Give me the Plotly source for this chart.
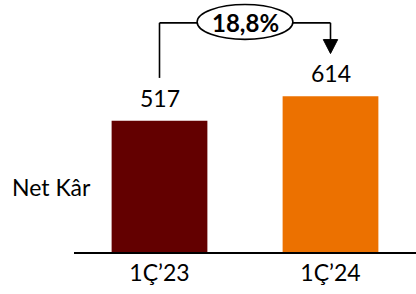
import plotly.graph_objects as go

categories = ["1Ç’23", "1Ç’24"]
values = [517, 614]
colors = ["#630000", "#EC7100"]
row_label = "Net Kâr"

growth = (values[1] / values[0] - 1) * 100
growth_txt = f"{growth:.1f}".replace(".", ",") + "%"

FONT = "Lato, 'Open Sans', sans-serif"

fig = go.Figure()
fig.add_trace(go.Bar(x=[0, 1], y=values, marker=dict(color=colors, line=dict(width=0)),
                     width=0.56, hoverinfo="skip"))

for i, v in enumerate(values):
    fig.add_annotation(x=i, y=v, text=str(v), showarrow=False, yanchor="bottom",
                       yshift=7, font=dict(size=23, color="black", family=FONT))

# growth connector
top = 903
lw = 1.6
fig.add_shape(type="line", x0=0, x1=0, y0=values[0] + 169, y1=top, line=dict(color="black", width=lw))
fig.add_shape(type="line", x0=0, x1=0.22, y0=top, y1=top, line=dict(color="black", width=lw))
fig.add_shape(type="line", x0=0.78, x1=1.0, y0=top, y1=top, line=dict(color="black", width=lw))
fig.add_shape(type="line", x0=1.0, x1=1.0, y0=top, y1=values[1] + 215, line=dict(color="black", width=lw))
tip = values[1] + 168
fig.add_shape(type="path", path=f"M 0.958 {tip+55} L 1.042 {tip+55} L 1.0 {tip} Z",
              fillcolor="black", line=dict(color="black", width=1))
fig.add_shape(type="circle", x0=0.22, x1=0.78, y0=838, y1=975, fillcolor="white",
              line=dict(color="black", width=lw))
fig.add_annotation(x=0.5, y=906, text=f"<b>{growth_txt}</b>", showarrow=False,
                   font=dict(size=24, color="black", family=FONT))

fig.add_annotation(xref="paper", yref="paper", x=-0.187, y=0.258, xanchor="left", yanchor="middle",
                   text=row_label, showarrow=False, font=dict(size=23, color="black", family=FONT))

fig.update_layout(
    width=416, height=294,
    margin=dict(l=74, r=0, t=0, b=42),
    plot_bgcolor="white", paper_bgcolor="white",
    showlegend=False,
    xaxis=dict(range=[-0.5, 1.5], tickmode="array", tickvals=[0, 1], ticktext=categories,
               showline=True, linecolor="black", linewidth=1.6, showgrid=False, zeroline=False,
               ticks="", tickfont=dict(size=23, color="black", family=FONT), fixedrange=True,
               automargin=False),
    yaxis=dict(range=[0, 993], visible=False, fixedrange=True),
)

fig.write_html("out.html", config={"displayModeBar": False},
               post_script="document.body.style.margin='0';document.body.style.overflow='hidden';")
